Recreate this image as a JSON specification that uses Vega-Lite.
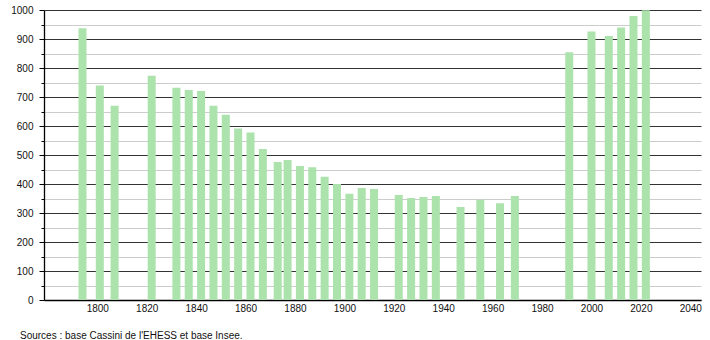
{
  "$schema": "https://vega.github.io/schema/vega-lite/v6.json",
  "width": 657,
  "height": 290,
  "autosize": {"type": "none"},
  "padding": {"left": 44, "top": 10, "right": 9, "bottom": 40},
  "background": "white",
  "config": {
    "view": {"stroke": null},
    "font": "Liberation Sans",
    "axis": {"labelFont": "Liberation Sans", "labelFontSize": 10, "labelColor": "#111"}
  },
  "title": {
    "text": "Sources : base Cassini de l'EHESS et base Insee.",
    "orient": "bottom",
    "anchor": "start",
    "frame": "group",
    "dx": -24,
    "offset": 18,
    "fontSize": 10,
    "fontWeight": "normal",
    "color": "#111",
    "font": "Liberation Sans"
  },
  "data": {
    "values": [
      {"year": 1793, "pop": 937},
      {"year": 1800, "pop": 740},
      {"year": 1806, "pop": 670},
      {"year": 1821, "pop": 773},
      {"year": 1831, "pop": 732},
      {"year": 1836, "pop": 724},
      {"year": 1841, "pop": 721},
      {"year": 1846, "pop": 670},
      {"year": 1851, "pop": 639},
      {"year": 1856, "pop": 591},
      {"year": 1861, "pop": 578},
      {"year": 1866, "pop": 521},
      {"year": 1872, "pop": 476},
      {"year": 1876, "pop": 483},
      {"year": 1881, "pop": 462},
      {"year": 1886, "pop": 458},
      {"year": 1891, "pop": 425},
      {"year": 1896, "pop": 400},
      {"year": 1901, "pop": 366},
      {"year": 1906, "pop": 386},
      {"year": 1911, "pop": 383},
      {"year": 1921, "pop": 362},
      {"year": 1926, "pop": 352},
      {"year": 1931, "pop": 355},
      {"year": 1936, "pop": 359},
      {"year": 1946, "pop": 321},
      {"year": 1954, "pop": 346},
      {"year": 1962, "pop": 334},
      {"year": 1968, "pop": 359},
      {"year": 1990, "pop": 854},
      {"year": 1999, "pop": 926},
      {"year": 2006, "pop": 910},
      {"year": 2011, "pop": 940},
      {"year": 2016, "pop": 979},
      {"year": 2021, "pop": 999}
    ]
  },
  "mark": {"type": "bar", "size": 8, "color": "#ace2ac"},
  "encoding": {
    "x": {
      "field": "year",
      "type": "quantitative",
      "scale": {"domain": [1779.44, 2041.3], "nice": false, "zero": false},
      "axis": {
        "title": null,
        "values": [1800, 1820, 1840, 1860, 1880, 1900, 1920, 1940, 1960, 1980, 2000, 2020, 2040],
        "format": "d",
        "grid": false,
        "ticks": false,
        "labelPadding": 3,
        "labelOffset": -2.5,
        "domainColor": "#000",
        "domainWidth": 1.3,
        "labelFlush": false,
        "labelOverlap": false
      }
    },
    "y": {
      "field": "pop",
      "type": "quantitative",
      "scale": {"domain": [0, 1000], "nice": false},
      "axis": {
        "title": null,
        "values": [0, 50, 100, 150, 200, 250, 300, 350, 400, 450, 500, 550, 600, 650, 700, 750, 800, 850, 900, 950, 1000],
        "labelExpr": "datum.value % 100 === 0 ? datum.label : ''",
        "format": "d",
        "grid": true,
        "gridColor": {"condition": {"test": "datum.value % 100 === 0", "value": "#333333"}, "value": "#cccccc"},
        "gridOpacity": 1,
        "gridWidth": 1,
        "tickColor": "#000",
        "tickSize": {"condition": {"test": "datum.value % 100 === 0", "value": 5}, "value": 3},
        "labelPadding": 6,
        "domainColor": "#000",
        "domainWidth": 1.3,
        "labelFlush": false,
        "labelOverlap": false
      }
    }
  }
}
